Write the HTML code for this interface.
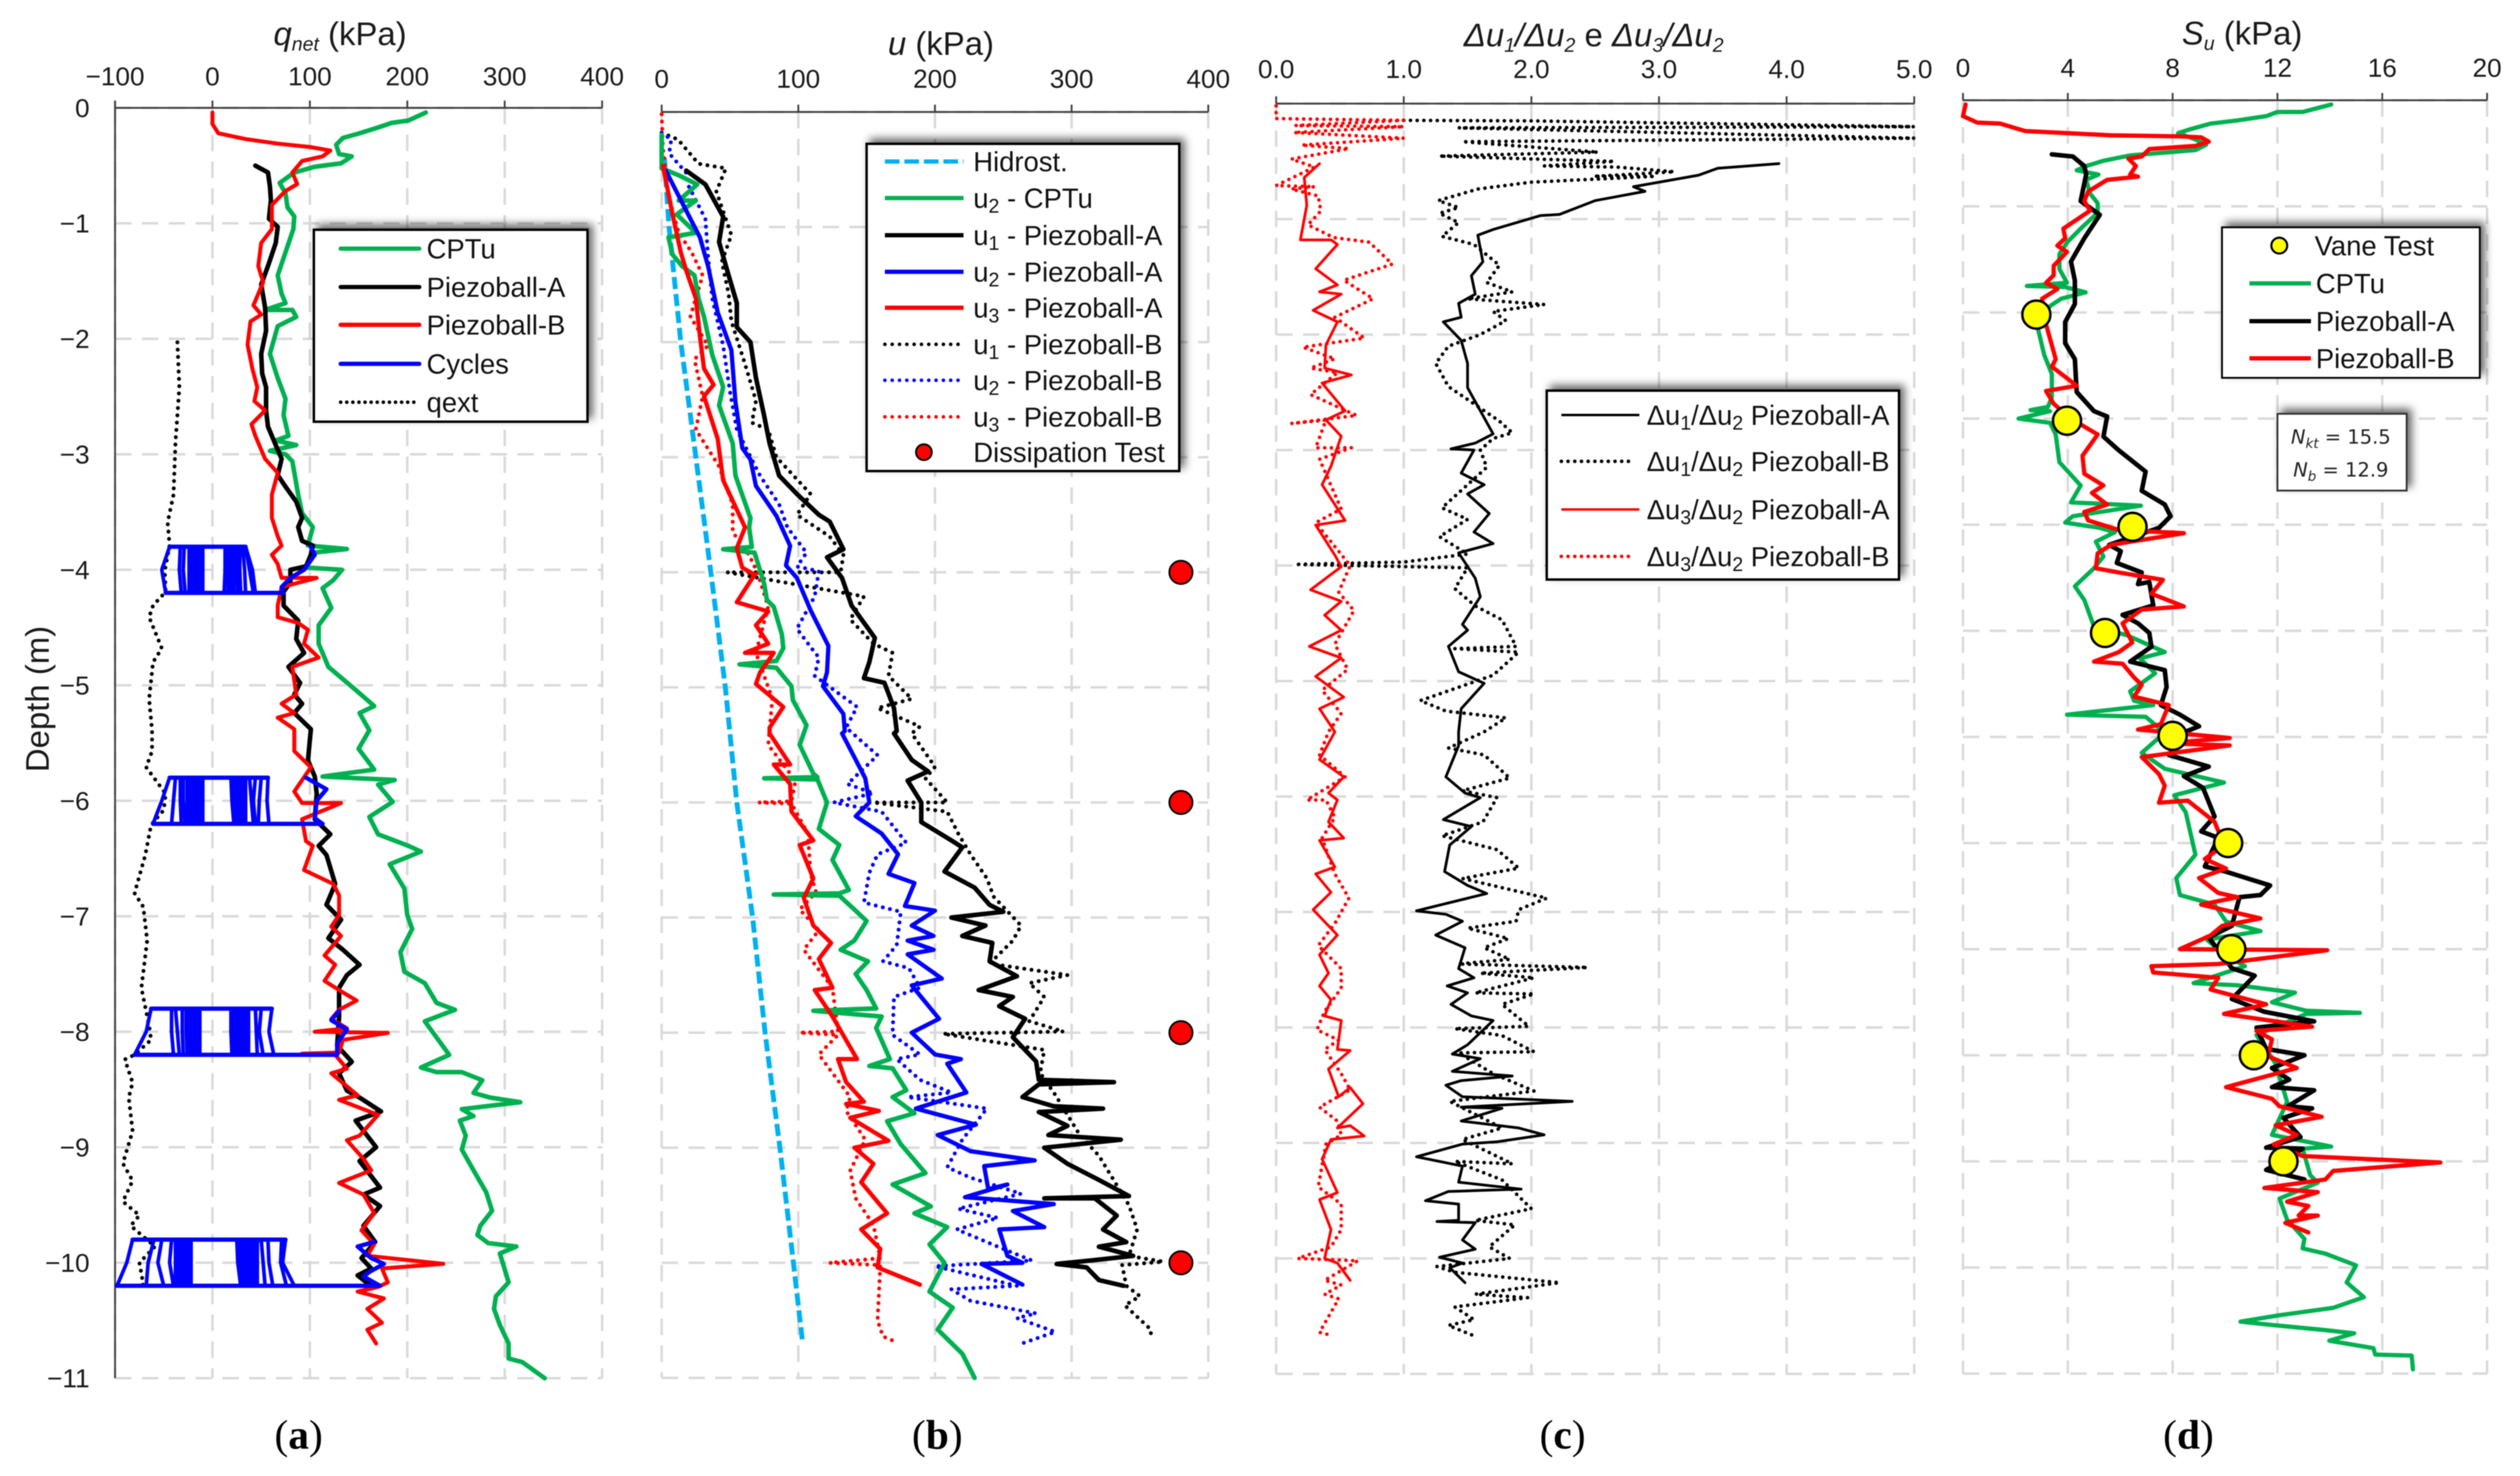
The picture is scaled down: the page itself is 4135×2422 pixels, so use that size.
<!DOCTYPE html>
<html lang="en">
<head>
<meta charset="utf-8">
<title>Piezoball and CPTu profiles</title>
<style>
html,body{margin:0;padding:0;background:#fff;}
svg{display:block;font-family:"Liberation Sans",sans-serif;fill:#1a1a1a;filter:blur(0.9px);}
.lg{font-size:45px;fill:#111;}
.sub{font-size:32px;}
.box{fill:#fff;stroke:#000;stroke-width:4;filter:drop-shadow(7px -7px 7px rgba(0,0,0,.6));}
.cap{font-family:"Liberation Serif",serif;font-size:68px;fill:#000;text-anchor:middle;}
.ttl{font-size:54px;text-anchor:middle;}
.note{font-family:"DejaVu Sans",sans-serif;font-size:32px;text-anchor:middle;fill:#222;}
</style>
</head>
<body>
<svg id="figure" xmlns="http://www.w3.org/2000/svg" width="4135" height="2422" viewBox="0 0 4135 2422">
<rect width="4135" height="2422" fill="#fff"/>
<g id="plots"></g>

<text class="ttl" x="558" y="74"><tspan font-style="italic">q</tspan><tspan class="sub" dy="9" font-style="italic">net</tspan><tspan dy="-9"> (kPa)</tspan></text>
<text class="ttl" x="1544" y="90"><tspan font-style="italic">u</tspan> (kPa)</text>
<text class="ttl" x="2615" y="76"><tspan font-style="italic">Δu</tspan><tspan class="sub" dy="9" font-style="italic">1</tspan><tspan dy="-9" font-style="italic">/Δu</tspan><tspan class="sub" dy="9" font-style="italic">2</tspan><tspan dy="-9"> e </tspan><tspan font-style="italic">Δu</tspan><tspan class="sub" dy="9" font-style="italic">3</tspan><tspan dy="-9" font-style="italic">/Δu</tspan><tspan class="sub" dy="9" font-style="italic">2</tspan></text>
<text class="ttl" x="3679" y="73"><tspan font-style="italic">S</tspan><tspan class="sub" dy="9" font-style="italic">u</tspan><tspan dy="-9"> (kPa)</tspan></text>
<text class="ttl" transform="translate(64 1147) rotate(-90)" x="0" y="16">Depth (m)</text>

<text class="cap" x="490" y="2377">(<tspan font-weight="bold">a</tspan>)</text>
<text class="cap" x="1538" y="2377">(<tspan font-weight="bold">b</tspan>)</text>
<text class="cap" x="2564" y="2377">(<tspan font-weight="bold">c</tspan>)</text>
<text class="cap" x="3591" y="2377">(<tspan font-weight="bold">d</tspan>)</text>

<g>
<rect class="box" x="515" y="377" width="449" height="315"/>
<line x1="559" x2="688" y1="408" y2="408" stroke="#00b050" stroke-width="7" stroke-linecap="round"/>
<text class="lg" x="700" y="424">CPTu</text>
<line x1="559" x2="688" y1="471" y2="471" stroke="#000" stroke-width="7" stroke-linecap="round"/>
<text class="lg" x="700" y="487">Piezoball-A</text>
<line x1="559" x2="688" y1="533" y2="533" stroke="#f00" stroke-width="7" stroke-linecap="round"/>
<text class="lg" x="700" y="549">Piezoball-B</text>
<line x1="559" x2="688" y1="597" y2="597" stroke="#00f" stroke-width="7" stroke-linecap="round"/>
<text class="lg" x="700" y="613">Cycles</text>
<line x1="559" x2="680" y1="660" y2="660" stroke="#000" stroke-width="6" stroke-linecap="round" stroke-dasharray="0 10"/>
<text class="lg" x="700" y="676">qext</text>
</g>

<g>
<rect class="box" x="1422" y="236" width="513" height="537"/>
<line x1="1452" x2="1581" y1="265" y2="265" stroke="#00b0f0" stroke-width="7" stroke-dasharray="24 8"/>
<text class="lg" x="1597" y="281">Hidrost.</text>
<line x1="1452" x2="1581" y1="325" y2="325" stroke="#00b050" stroke-width="7"/>
<text class="lg" x="1597" y="341">u<tspan class="sub" dy="8">2</tspan><tspan dy="-8"> - CPTu</tspan></text>
<line x1="1452" x2="1581" y1="386" y2="386" stroke="#000" stroke-width="7"/>
<text class="lg" x="1597" y="402">u<tspan class="sub" dy="8">1</tspan><tspan dy="-8"> - Piezoball-A</tspan></text>
<line x1="1452" x2="1581" y1="446" y2="446" stroke="#00f" stroke-width="7"/>
<text class="lg" x="1597" y="462">u<tspan class="sub" dy="8">2</tspan><tspan dy="-8"> - Piezoball-A</tspan></text>
<line x1="1452" x2="1581" y1="505" y2="505" stroke="#f00" stroke-width="7"/>
<text class="lg" x="1597" y="521">u<tspan class="sub" dy="8">3</tspan><tspan dy="-8"> - Piezoball-A</tspan></text>
<line x1="1452" x2="1575" y1="565" y2="565" stroke="#000" stroke-width="6" stroke-linecap="round" stroke-dasharray="0 12"/>
<text class="lg" x="1597" y="581">u<tspan class="sub" dy="8">1</tspan><tspan dy="-8"> - Piezoball-B</tspan></text>
<line x1="1452" x2="1575" y1="624" y2="624" stroke="#00f" stroke-width="6" stroke-linecap="round" stroke-dasharray="0 12"/>
<text class="lg" x="1597" y="640">u<tspan class="sub" dy="8">2</tspan><tspan dy="-8"> - Piezoball-B</tspan></text>
<line x1="1452" x2="1575" y1="684" y2="684" stroke="#f00" stroke-width="6" stroke-linecap="round" stroke-dasharray="0 12"/>
<text class="lg" x="1597" y="700">u<tspan class="sub" dy="8">3</tspan><tspan dy="-8"> - Piezoball-B</tspan></text>
<circle cx="1516" cy="742" r="13" fill="#f00" stroke="#000" stroke-width="3"/>
<text class="lg" x="1597" y="758">Dissipation Test</text>
</g>

<g>
<rect class="box" x="2538" y="641" width="578" height="310"/>
<line x1="2562" x2="2690" y1="681" y2="681" stroke="#000" stroke-width="4"/>
<text class="lg" x="2702" y="697">Δu<tspan class="sub" dy="8">1</tspan><tspan dy="-8">/Δu</tspan><tspan class="sub" dy="8">2</tspan><tspan dy="-8"> Piezoball-A</tspan></text>
<line x1="2562" x2="2682" y1="757" y2="757" stroke="#000" stroke-width="6" stroke-linecap="round" stroke-dasharray="0 11"/>
<text class="lg" x="2702" y="773">Δu<tspan class="sub" dy="8">1</tspan><tspan dy="-8">/Δu</tspan><tspan class="sub" dy="8">2</tspan><tspan dy="-8"> Piezoball-B</tspan></text>
<line x1="2562" x2="2690" y1="836" y2="836" stroke="#f00" stroke-width="4"/>
<text class="lg" x="2702" y="852">Δu<tspan class="sub" dy="8">3</tspan><tspan dy="-8">/Δu</tspan><tspan class="sub" dy="8">2</tspan><tspan dy="-8"> Piezoball-A</tspan></text>
<line x1="2562" x2="2682" y1="913" y2="913" stroke="#f00" stroke-width="6" stroke-linecap="round" stroke-dasharray="0 11"/>
<text class="lg" x="2702" y="929">Δu<tspan class="sub" dy="8">3</tspan><tspan dy="-8">/Δu</tspan><tspan class="sub" dy="8">2</tspan><tspan dy="-8"> Piezoball-B</tspan></text>
</g>

<g>
<rect class="box" style="stroke-width:3" x="3646" y="373" width="423" height="247"/>
<circle cx="3740" cy="403" r="13" fill="#ff0" stroke="#000" stroke-width="3.5"/>
<text class="lg" x="3798" y="419">Vane Test</text>
<line x1="3691" x2="3792" y1="465" y2="465" stroke="#00b050" stroke-width="7"/>
<text class="lg" x="3800" y="481">CPTu</text>
<line x1="3691" x2="3792" y1="527" y2="527" stroke="#000" stroke-width="7"/>
<text class="lg" x="3800" y="543">Piezoball-A</text>
<line x1="3691" x2="3792" y1="588" y2="588" stroke="#f00" stroke-width="7"/>
<text class="lg" x="3800" y="604">Piezoball-B</text>
</g>

<g>
<rect class="box" style="stroke-width:3;stroke:#333" x="3737" y="679" width="212" height="126"/>
<text class="note" x="3841" y="728"><tspan font-style="italic">N</tspan><tspan font-size="22" dy="7" font-style="italic">kt</tspan><tspan dy="-7"> = 15.5</tspan></text>
<text class="note" x="3841" y="782"><tspan font-style="italic">N</tspan><tspan font-size="22" dy="7" font-style="italic">b</tspan><tspan dy="-7"> = 12.9</tspan></text>
</g>
</svg>

<script>
/* ---------- axis tick values ---------- */
const depthTicks=[0,1,2,3,4,5,6,7,8,9,10,11];
const suDepthGrid=[0,1,2,3,4,5,6,7,8,9,10,11,12];
const qnetTicks=[-100,0,100,200,300,400];
const uTicks=[0,100,200,300,400];
const ratioTicks=[0,1,2,3,4,5];
const suTicks=[0,4,8,12,16,20];

/* ---------- panel (a) qnet, kPa vs depth, m: [value, depth] ---------- */
const qnetCptu=[[219,.04],[201,.11],[184,.13],[170,.17],[151,.22],[134,.26],[127,.32],[130,.4],[143,.42],[132,.48],[105,.51],[84,.56],[69,.65],[75,.74],[77,.86],[84,.94],[83,1.05],[75,1.25],[67,1.45],[71,1.61],[75,1.69],[54,1.75],[82,1.75],[86,1.81],[67,1.89],[59,2.13],[67,2.34],[75,2.52],[73,2.66],[78,2.84],[65,2.88],[86,2.92],[59,2.97],[75,3],[82,3.06],[88,3.35],[92,3.51],[103,3.63],[98,3.79],[138,3.82],[105,3.85],[101,3.87],[96,3.98],[133,4],[124,4.09],[113,4.16],[122,4.33],[109,4.48],[109,4.64],[119,4.84],[147,5.04],[166,5.18],[151,5.24],[161,5.39],[150,5.55],[166,5.73],[113,5.79],[187,5.82],[170,5.86],[185,6.01],[161,6.14],[170,6.29],[201,6.39],[214,6.44],[182,6.55],[197,6.76],[200,6.99],[205,7.11],[193,7.31],[197,7.48],[218,7.58],[230,7.75],[249,7.81],[218,7.91],[243,8.2],[214,8.31],[230,8.35],[256,8.35],[277,8.42],[268,8.53],[285,8.57],[316,8.61],[256,8.67],[268,8.73],[254,8.77],[260,8.9],[256,9.02],[268,9.2],[281,9.39],[287,9.55],[275,9.68],[272,9.76],[283,9.83],[312,9.86],[295,9.92],[304,10.17],[291,10.29],[289,10.4],[295,10.54],[304,10.7],[304,10.83],[318,10.86],[341,11]];
const qnetPiezoA=[[44,.5],[57,.56],[59,.68],[60,.8],[58,.96],[67,1.03],[65,1.17],[57,1.37],[50,1.53],[54,1.73],[55,1.93],[50,2.13],[51,2.3],[55,2.42],[55,2.62],[57,2.76],[63,2.88],[71,3.04],[67,3.18],[75,3.28],[86,3.41],[92,3.55],[88,3.63],[92,3.75],[103,3.79],[101,3.87],[96,3.97],[80,4],[80,4.11],[73,4.19],[73,4.31],[88,4.44],[86,4.6],[94,4.72],[78,4.84],[90,4.98],[84,5.08],[92,5.16],[84,5.24],[101,5.38],[98,5.65],[105,5.79],[107,5.94],[105,6.16],[121,6.29],[109,6.39],[117,6.47],[126,6.72],[117,6.9],[132,7.03],[119,7.19],[134,7.29],[151,7.42],[138,7.51],[130,7.62],[130,7.87],[128,8.12],[143,8.26],[130,8.36],[138,8.51],[151,8.57],[173,8.69],[147,8.77],[168,9],[151,9.12],[172,9.35],[155,9.41],[172,9.51],[155,9.68],[167,9.82],[153,9.96],[163,10.05],[149,10.11],[161,10.19]];
const qnetPiezoB=[[0,.04],[0,.14],[6,.22],[34,.27],[67,.31],[101,.34],[121,.37],[113,.42],[92,.46],[82,.56],[87,.66],[75,.72],[61,.84],[61,1.05],[50,1.17],[47,1.37],[52,1.51],[42,1.71],[50,1.79],[39,1.85],[36,2.05],[41,2.26],[46,2.42],[43,2.54],[54,2.62],[40,2.74],[44,2.84],[54,3.04],[67,3.16],[61,3.35],[61,3.55],[67,3.71],[71,3.79],[61,3.87],[67,3.95],[71,4.07],[107,4.07],[71,4.15],[67,4.31],[67,4.41],[88,4.46],[98,4.52],[94,4.64],[109,4.76],[82,4.84],[86,5.08],[71,5.16],[84,5.24],[67,5.28],[84,5.38],[84,5.57],[101,5.71],[84,5.92],[92,6.02],[132,6.02],[92,6.16],[96,6.35],[103,6.39],[94,6.6],[124,6.72],[130,6.82],[130,6.99],[122,7.09],[132,7.17],[115,7.34],[126,7.42],[115,7.56],[134,7.66],[148,7.73],[130,7.81],[122,7.89],[138,7.97],[105,8],[180,8.01],[134,8.07],[130,8.18],[92,8.19],[126,8.2],[138,8.32],[122,8.36],[149,8.55],[130,8.59],[170,8.72],[151,8.9],[138,8.94],[155,9.1],[163,9.2],[130,9.31],[155,9.41],[166,9.57],[153,9.72],[166,9.84],[159,9.94],[237,10.01],[174,10.05],[180,10.17],[170,10.21],[149,10.25],[176,10.31],[159,10.4],[174,10.52],[159,10.58],[168,10.7]];
const qnetExt=[[-36,2.03],[-34,2.42],[-38,2.9],[-40,3.35],[-46,3.59],[-44,3.79],[-49,4.01],[-48,4.19],[-61,4.31],[-65,4.41],[-52,4.68],[-61,4.8],[-65,5.12],[-62,5.39],[-62,5.57],[-68,5.71],[-48,5.94],[-50,6.08],[-63,6.21],[-69,6.47],[-80,6.8],[-71,6.92],[-67,7.21],[-73,7.62],[-65,7.95],[-63,8.07],[-80,8.2],[-90,8.24],[-82,8.44],[-86,8.57],[-82,8.86],[-92,9.14],[-82,9.29],[-92,9.47],[-75,9.59],[-84,9.68],[-59,9.86],[-75,10],[-71,10.19],[-80,10.2]];

/* cycles: depths of top, middle, bottom; strands of q at those depths */
const cycleDepths1=[3.8,4.0,4.2];
const cycleStrands1=[[-44,-52,-48],[-33,-34,-32],[-29,-30,-28],[-24,-24,-24],[-22,-22,-22],[-20,-20,-20],[-18,-18,-18],[-16,-16,-16],[-14,-14,-14],[-12,-12,-12],[-10,-10,-10],[13,13,12],[16,16,16],[19,19,19],[22,22,22],[25,25,26],[28,28,29],[31,33,34],[34,38,42],[34,41,44]];
const cycleTail1=[[101,3.8],[105,3.87],[94,4],[80,4.07],[71,4.15],[73,4.2]];
const cycleDepths2=[5.8,6.0,6.2];
const cycleStrands2=[[-44,-52,-61],[-38,-40,-42],[-33,-33,-32],[-30,-30,-28],[-26,-26,-26],[-24,-24,-24],[-22,-22,-22],[-20,-20,-20],[-18,-18,-18],[-16,-16,-16],[-14,-14,-14],[-12,-12,-12],[-10,-10,-10],[19,20,22],[22,22,24],[25,25,26],[28,28,28],[31,31,31],[34,34,34],[38,40,42],[44,42,44],[50,48,47],[57,56,58]];
const cycleTail2=[[96,5.8],[117,5.9],[107,6],[105,6.15],[113,6.2]];
const cycleDepths3=[7.8,8.0,8.2];
const cycleStrands3=[[-63,-68,-80],[-42,-42,-40],[-38,-36,-34],[-31,-31,-30],[-27,-27,-26],[-25,-25,-25],[-23,-23,-23],[-21,-21,-21],[-19,-19,-19],[-17,-17,-17],[-15,-15,-15],[-13,-13,-13],[19,19,20],[22,22,23],[25,25,26],[28,28,28],[31,31,31],[34,34,34],[37,37,37],[44,45,46],[50,48,52],[61,58,63]];
const cycleTail3=[[130,7.82],[122,7.9],[138,7.98],[128,8.1],[128,8.2]];
const cycleDepths4=[9.8,10.0,10.2];
const cycleStrands4=[[-82,-88,-98],[-60,-66,-68],[-52,-56,-50],[-42,-44,-40],[-38,-38,-38],[-36,-36,-36],[-34,-34,-34],[-32,-32,-32],[-30,-30,-30],[-28,-28,-28],[-26,-26,-26],[-24,-24,-24],[-22,-22,-22],[25,26,29],[28,29,31],[31,32,34],[34,34,36],[37,37,38],[40,40,41],[43,43,44],[46,46,46],[50,52,54],[57,58,62],[71,70,76],[75,72,84]];
const cycleTail4=[[166,9.82],[149,9.86],[163,9.96],[176,10.01],[161,10.08],[155,10.12],[172,10.2]];

/* ---------- panel (b) pore pressure, kPa vs depth, m ---------- */
const uHydrostatic=[[2,.4],[5.4,1],[14,2],[25,3],[36,4],[46.6,5],[55,6],[66.6,7],[75.7,8],[86.5,9],[96.4,10],[103,10.68]];
const u2Cptu=[[0,.2],[0,.49],[12.5,.55],[26,.63],[12.5,.77],[25,.77],[11,.89],[25,1.05],[5,1.09],[8,1.24],[15,1.34],[24,1.42],[27,1.62],[31,1.78],[37,2.11],[45,2.39],[42,2.55],[52,2.88],[54,3.16],[65,3.53],[64,3.61],[66,3.78],[45,3.8],[68,3.83],[75,4.1],[77,4.24],[82,4.3],[88,4.54],[89,4.66],[84,4.77],[57,4.8],[84,4.83],[95,4.99],[96,5.11],[106,5.33],[101,5.5],[111,5.75],[114,5.78],[75,5.79],[114,5.8],[121,6],[115,6.23],[130,6.37],[125,6.5],[137,6.76],[130,6.79],[82,6.8],[130,6.81],[141,6.93],[150,7.03],[141,7.2],[131,7.28],[151,7.38],[142,7.49],[150,7.63],[157,7.79],[111,7.81],[161,7.86],[157,7.96],[167,8.23],[152,8.29],[169,8.31],[179,8.5],[169,8.56],[185,8.7],[165,8.77],[175,8.97],[193,9.22],[169,9.32],[197,9.51],[185,9.57],[209,9.69],[196,9.84],[207,10],[196,10.25],[213,10.39],[202,10.58],[220,10.79],[229,11]];
const u1PiezoA=[[18,.51],[32,.63],[45,.91],[42,1.13],[49,1.42],[55,1.66],[55,1.87],[65,2],[69,2.31],[75,2.64],[79,2.88],[86,3.16],[99,3.32],[115,3.5],[123,3.56],[133,3.8],[121,3.87],[132,4.05],[139,4.29],[156,4.57],[152,4.78],[148,4.92],[163,4.96],[170,5.18],[172,5.38],[170,5.4],[183,5.63],[195,5.73],[180,5.81],[190,6],[190,6.17],[212,6.33],[220,6.39],[207,6.6],[229,6.74],[240,6.89],[250,6.95],[212,7],[237,7.07],[220,7.16],[242,7.22],[240,7.38],[260,7.51],[232,7.63],[257,7.69],[247,7.77],[266,7.88],[257,8.04],[274,8.25],[276,8.41],[331,8.43],[276,8.45],[264,8.56],[287,8.64],[323,8.66],[276,8.69],[297,8.81],[283,8.89],[336,8.93],[280,9],[297,9.14],[320,9.28],[342,9.42],[280,9.44],[317,9.44],[333,9.59],[323,9.71],[340,9.82],[320,9.86],[345,9.94],[314,9.98],[289,10.01],[311,10.04],[320,10.15],[338,10.2]];
const u2PiezoA=[[3,.51],[12.5,.73],[28,1.09],[34,1.34],[41,1.74],[51,2.07],[54,2.52],[59,2.92],[65,3.02],[69,3.25],[84,3.51],[94,3.77],[91,3.94],[99,4.05],[109,4.33],[122,4.64],[121,4.87],[118,4.99],[133,5.23],[134,5.38],[132,5.4],[149,5.79],[152,6],[142,6.12],[161,6.27],[173,6.45],[166,6.62],[185,6.7],[178,6.9],[200,6.94],[183,7.07],[199,7.16],[180,7.2],[199,7.28],[180,7.32],[205,7.53],[183,7.59],[203,7.88],[183,8],[200,8.19],[219,8.23],[209,8.27],[223,8.52],[186,8.66],[230,8.8],[202,8.89],[226,9.03],[273,9.11],[236,9.16],[239,9.36],[253,9.32],[222,9.43],[287,9.49],[257,9.55],[280,9.69],[247,9.71],[253,9.94],[264,10],[234,10.01],[264,10.19]];
const u3PiezoA=[[1,.47],[8,.89],[14,1.22],[18,1.38],[25,1.62],[28,1.95],[31,2.23],[38,2.37],[31,2.47],[41,2.84],[45,3.2],[61,3.61],[55,3.79],[59,3.96],[68,4.02],[55,4.26],[78,4.34],[69,4.46],[78,4.62],[61,4.7],[82,4.7],[72,4.87],[69,4.97],[89,5.17],[79,5.35],[79,5.4],[94,5.67],[82,5.67],[94,5.84],[95,6.08],[111,6.33],[101,6.37],[111,6.66],[104,6.83],[111,7.07],[124,7.22],[115,7.36],[125,7.61],[112,7.63],[125,7.86],[143,8.23],[129,8.23],[135,8.43],[148,8.6],[135,8.62],[159,8.68],[138,8.74],[166,8.94],[141,9],[155,9.14],[146,9.3],[165,9.57],[146,9.71],[160,9.88],[158,10.04],[189,10.19]];
const u1PiezoB=[[0,.18],[12,.24],[27,.45],[47,.49],[40,.69],[51,1.07],[44,1.3],[49,1.58],[51,1.82],[61,2.19],[69,2.51],[66,2.7],[78,2.76],[84,3],[109,3.32],[99,3.5],[123,3.69],[133,3.85],[131,4],[48,4],[148,4.21],[138,4.41],[155,4.62],[169,4.7],[166,4.9],[183,5.1],[158,5.18],[189,5.34],[183,5.4],[200,5.69],[193,5.79],[209,6],[155,6],[209,6.08],[217,6.27],[226,6.45],[238,6.66],[243,6.82],[263,7.07],[257,7.2],[240,7.4],[297,7.5],[269,7.57],[280,7.69],[269,7.9],[294,7.99],[206,8.01],[280,8.15],[277,8.35],[288,8.54],[306,8.89],[320,9.07],[342,9.5],[348,9.71],[342,9.94],[367,9.99],[337,10.02],[340,10.2],[350,10.29],[339,10.37],[358,10.58],[358,10.67]];
const u2PiezoB=[[0,.18],[7,.24],[5.5,.36],[18,.53],[20,.65],[32,.93],[34,1.26],[37,1.62],[45,2.03],[50,2.43],[55,2.76],[72,3.16],[86,3.41],[92,3.61],[106,3.83],[99,3.95],[115,3.99],[112,4.21],[99,4.49],[109,4.65],[115,4.74],[112,4.9],[143,5.17],[135,5.35],[158,5.59],[136,5.84],[155,5.92],[126,6],[161,6.08],[179,6.35],[158,6.45],[152,6.61],[148,6.87],[175,6.95],[172,7.24],[162,7.38],[181,7.44],[189,7.61],[170,7.69],[169,8.02],[189,8.19],[172,8.23],[189,8.41],[212,8.52],[180,8.56],[238,8.66],[220,8.93],[209,9.17],[226,9.26],[263,9.4],[217,9.53],[246,9.61],[216,9.71],[246,9.86],[271,9.98],[200,10.03],[260,10.2],[212,10.23],[226,10.33],[274,10.44],[260,10.48],[288,10.6],[264,10.7]];
const u3PiezoB=[[0,.02],[1,.32],[5,.73],[12.5,1.05],[22,1.22],[30,1.42],[21,1.78],[34,2.03],[24,2.15],[30,2.47],[25,2.76],[42,3.08],[52,3.41],[52,3.65],[64,3.85],[70,4],[78,4.3],[69,4.7],[81,5.1],[78,5.5],[98,5.81],[95,5.99],[71,6],[95,6.01],[107,6.27],[109,6.62],[113,6.78],[101,6.93],[115,7.11],[104,7.28],[125,7.61],[129,7.99],[101,8],[129,8.02],[115,8.19],[138,8.56],[135,8.68],[149,8.93],[138,9.2],[142,9.44],[155,9.67],[160,9.96],[123,10],[160,10.02],[158,10.5],[162,10.64],[172,10.69]];
const dissipationU=[380,380,380,380];
const dissipationDepth=[4,6,8,10];

/* ---------- panel (c) pore pressure ratios vs depth, m ---------- */
const ratio1A=[[3.94,.52],[3.46,.56],[3.31,.62],[2.8,.72],[2.89,.76],[2.5,.84],[2.22,.96],[2.07,.97],[1.7,1.09],[1.58,1.14],[1.62,1.37],[1.53,1.49],[1.56,1.65],[1.43,1.73],[1.45,1.85],[1.31,1.89],[1.45,2.05],[1.5,2.25],[1.5,2.46],[1.6,2.66],[1.7,2.86],[1.56,2.94],[1.37,2.99],[1.55,3],[1.45,3.2],[1.63,3.3],[1.5,3.38],[1.67,3.55],[1.55,3.71],[1.7,3.81],[1.43,3.89],[1.56,4.11],[1.6,4.27],[1.46,4.51],[1.5,4.56],[1.35,4.7],[1.43,4.92],[1.63,5.02],[1.45,5.24],[1.43,5.44],[1.43,5.56],[1.33,5.83],[1.48,5.97],[1.6,6.01],[1.31,6.2],[1.53,6.26],[1.36,6.42],[1.32,6.65],[1.5,6.77],[1.65,6.84],[1.1,6.99],[1.33,7.02],[1.46,7.08],[1.25,7.2],[1.48,7.31],[1.43,7.49],[1.55,7.57],[1.34,7.64],[1.5,7.7],[1.37,7.8],[1.53,7.9],[1.7,7.94],[1.5,8.15],[1.38,8.23],[1.6,8.27],[1.38,8.38],[1.85,8.42],[1.45,8.46],[1.33,8.5],[1.46,8.6],[2.32,8.64],[1.45,8.69],[1.77,8.7],[1.45,8.81],[1.9,8.87],[2.1,8.93],[1.73,8.99],[1.46,9.01],[1.1,9.12],[1.46,9.2],[1.43,9.34],[1.92,9.4],[1.35,9.42],[1.17,9.5],[1.43,9.53],[1.43,9.67],[1.26,9.68],[1.56,9.69],[1.46,9.84],[1.56,9.92],[1.28,9.99],[1.46,10.04],[1.36,10.08],[1.48,10.21]];
const ratio1B=[[1,.145],[2,.15],[5,.2],[1.43,.21],[5,.3],[1.46,.33],[2.52,.42],[1.28,.455],[2.65,.5],[2.1,.54],[2.67,.55],[3.12,.59],[2.49,.63],[2.97,.63],[2,.68],[1.58,.74],[1.27,.84],[1.43,.9],[1.28,.95],[1.43,1.03],[1.3,1.15],[1.55,1.22],[1.75,1.4],[1.65,1.55],[1.85,1.63],[1.5,1.69],[2.1,1.74],[1.7,1.8],[1.8,1.88],[1.6,2],[1.35,2.1],[1.25,2.25],[1.35,2.45],[1.55,2.6],[1.75,2.75],[1.85,2.85],[1.7,2.9],[1.6,3],[1.65,3.15],[1.3,3.5],[1.5,3.6],[1.28,3.75],[1.5,3.9],[1,3.97],[.15,3.99],[1.5,4.02],[1.4,4.2],[1.56,4.35],[1.77,4.47],[1.88,4.7],[1.4,4.72],[1.9,4.75],[1.7,4.95],[1.13,5.17],[1.33,5.26],[1.8,5.32],[1.63,5.44],[1.35,5.58],[1.63,5.64],[1.83,5.84],[1.46,5.95],[1.73,6.01],[1.62,6.22],[1.3,6.34],[1.73,6.46],[1.9,6.62],[1.46,6.71],[2.12,6.88],[1.9,6.98],[1.88,7.08],[1.5,7.14],[1.82,7.23],[1.63,7.31],[1.83,7.41],[1.43,7.45],[2.44,7.48],[1.6,7.53],[2.02,7.57],[1.56,7.7],[2.02,7.71],[1.77,7.8],[1.98,7.99],[1.4,8.01],[1.77,8.07],[2.02,8.21],[1.43,8.22],[1.7,8.4],[2.02,8.55],[1.36,8.64],[1.77,8.87],[1.46,8.97],[1.85,9.18],[1.4,9.16],[1.77,9.32],[2,9.57],[1.56,9.67],[1.87,9.71],[1.67,9.9],[1.83,10],[1.26,10.07],[1.4,10.12],[2.22,10.21],[1.56,10.31],[1.97,10.34],[1.4,10.42],[1.55,10.53],[1.35,10.58],[1.55,10.67]];
const ratio3A=[[.34,.52],[.22,.64],[.24,.88],[.19,1.18],[.43,1.18],[.48,1.22],[.31,1.43],[.48,1.57],[.34,1.63],[.51,1.65],[.29,1.79],[.48,1.89],[.39,2.09],[.38,2.29],[.59,2.35],[.36,2.42],[.54,2.66],[.39,2.74],[.51,2.88],[.43,3.14],[.36,3.3],[.54,3.61],[.31,3.65],[.46,3.91],[.51,4.01],[.27,4.21],[.51,4.31],[.38,4.43],[.51,4.56],[.26,4.7],[.51,4.8],[.31,4.96],[.53,5.14],[.34,5.24],[.46,5.44],[.34,5.68],[.53,5.83],[.41,5.97],[.48,6.03],[.41,6.22],[.53,6.36],[.34,6.38],[.46,6.61],[.31,6.67],[.43,6.83],[.29,6.98],[.48,7.2],[.34,7.37],[.41,7.53],[.34,7.64],[.43,7.76],[.38,7.9],[.51,7.94],[.48,8.19],[.58,8.2],[.41,8.36],[.49,8.6],[.58,8.52],[.68,8.66],[.48,8.87],[.58,8.85],[.69,8.94],[.43,8.97],[.36,9.14],[.48,9.43],[.34,9.49],[.43,9.75],[.38,10],[.48,10.04],[.58,10.19]];
const ratio3B=[[0,.02],[0,.13],[1,.145],[.15,.19],[1,.2],[.14,.25],[1,.3],[.2,.36],[.57,.39],[.12,.48],[.3,.55],[0,.71],[.3,.72],[.12,.74],[.33,.8],[.35,.93],[.25,1.05],[.45,1.16],[.73,1.2],[.91,1.39],[.53,1.53],[.76,1.69],[.46,1.85],[.69,2.03],[.21,2.11],[.46,2.21],[.27,2.29],[.48,2.33],[.27,2.52],[.63,2.7],[.12,2.77],[.39,2.74],[.31,2.98],[.59,2.98],[.34,3.08],[.51,3.51],[.31,3.63],[.58,4],[.49,4.23],[.61,4.39],[.46,4.68],[.56,4.9],[.36,5.08],[.51,5.28],[.41,5.44],[.34,5.64],[.54,5.83],[.24,6.03],[.39,6.03],[.46,6.18],[.36,6.36],[.46,6.67],[.57,6.88],[.46,7.1],[.33,7.29],[.51,7.49],[.51,7.66],[.38,7.86],[.32,8.02],[.49,8.11],[.38,8.19],[.51,8.4],[.58,8.54],[.34,8.69],[.48,8.81],[.51,8.93],[.39,9.01],[.33,9.38],[.51,9.53],[.51,9.75],[.43,9.9],[.17,10],[.64,10.02],[.38,10.19],[.51,10.23],[.38,10.31],[.49,10.35],[.34,10.64],[.41,10.66]];

/* ---------- panel (d) undrained strength, kPa vs axis position ---------- */
const suCptu=[[14.05,.04],[12.96,.11],[12,.11],[11.57,.15],[10.47,.19],[9.45,.22],[8.58,.28],[8.21,.31],[8.87,.37],[9.28,.42],[8.87,.47],[6.38,.52],[5.36,.57],[4.7,.62],[4.34,.66],[5.17,.7],[4.7,.75],[4.85,.88],[5.14,.97],[5.14,1.06],[4.49,1.21],[3.97,1.34],[3.68,1.45],[3.68,1.59],[3.97,1.72],[2.44,1.75],[3.9,1.76],[4.68,1.81],[3.75,1.87],[3.32,1.94],[2.8,2.09],[3.1,2.4],[3.39,2.58],[3.39,2.8],[3.24,2.89],[2.58,2.92],[3.32,2.93],[2.12,3],[3.32,3.04],[3.54,3.15],[3.68,3.41],[4.49,3.63],[4.12,3.79],[6.79,3.82],[4.19,3.92],[3.9,3.98],[5.22,4.03],[5.8,4.07],[5.07,4.16],[5.36,4.3],[5,4.41],[4.27,4.58],[4.63,4.71],[5,4.96],[6.24,5.04],[7.7,5.2],[6.75,5.26],[7.33,5.4],[6.38,5.57],[6.53,5.66],[7.26,5.7],[3.97,5.79],[6.97,5.81],[7.7,5.96],[6.82,6.15],[7.7,6.3],[9.96,6.43],[8.06,6.55],[8.5,6.71],[8.87,7.11],[8.14,7.33],[8.28,7.49],[9.6,7.58],[10.04,7.74],[11.35,7.83],[9.3,7.91],[10,8.05],[10.76,8.16],[8.8,8.32],[10.47,8.34],[12.67,8.41],[11.79,8.5],[13.1,8.58],[15.15,8.6],[13.1,8.61],[11.2,8.81],[11.93,9.08],[12.37,9.44],[11.79,9.75],[14.05,9.86],[12.96,9.88],[13.25,10.13],[13.54,10.2],[12.08,10.35],[12.37,10.55],[13.03,10.73],[12.96,10.82],[13.83,10.87],[15,10.98],[14.64,11.14],[15.3,11.28],[14.13,11.38],[12.08,11.45],[10.59,11.51],[11.72,11.54],[13.83,11.59],[14.93,11.62],[13.98,11.69],[15.66,11.76],[15.73,11.82],[17.12,11.83],[17.17,11.96]];
const suPiezoA=[[3.39,.51],[4.19,.53],[4.63,.62],[4.7,.7],[4.49,.95],[5.22,1.08],[4.63,1.3],[4.12,1.52],[4.27,1.7],[4.27,1.92],[3.9,2.09],[3.9,2.29],[4.27,2.44],[4.34,2.75],[5,2.93],[5.5,2.98],[5.36,3.17],[5.95,3.3],[6.97,3.5],[6.82,3.68],[7.7,3.81],[7.92,3.92],[7.48,4.03],[5.58,4.19],[6.02,4.25],[5.87,4.36],[6.82,4.45],[6.68,4.56],[7.11,4.54],[7.26,4.76],[6.09,4.85],[6.68,4.93],[7.11,5.02],[7.19,5.15],[6.38,5.29],[7.7,5.37],[7.77,5.53],[7.55,5.7],[8.28,5.79],[9.01,5.9],[8.5,5.95],[7.85,6.17],[9.38,6.28],[8.43,6.37],[9.16,6.48],[9.6,6.75],[9.09,6.89],[9.74,6.95],[9.23,7.22],[10.04,7.27],[11.72,7.4],[11.35,7.49],[10.55,7.51],[10.26,7.78],[9.38,7.89],[10.26,8.18],[11.13,8.25],[10.26,8.47],[11.5,8.59],[13.4,8.68],[11.2,8.74],[11.57,8.94],[13.03,9],[11.79,9.12],[12.45,9.23],[11.79,9.3],[13.4,9.33],[12.4,9.48],[13.32,9.5],[12.23,9.59],[12.88,9.77],[11.57,9.87],[12.96,9.88],[11.57,10.08],[13.03,10.17]];
const suPiezoB=[[.1,.04],[0,.15],[.54,.21],[1.42,.22],[2.37,.29],[5.65,.33],[8.28,.34],[9.09,.35],[9.38,.39],[8.87,.43],[7.11,.46],[6.82,.53],[6.31,.55],[6.6,.62],[6.38,.7],[6.68,.72],[5.5,.75],[4.78,.86],[4.63,.95],[4.85,1.04],[3.83,1.21],[3.9,1.3],[3.6,1.37],[3.97,1.43],[3.46,1.56],[3.46,1.65],[3.17,1.72],[3.6,1.78],[3.02,1.87],[3.1,2.05],[3.54,2.44],[3.39,2.51],[4.34,2.69],[3.17,2.74],[3.46,2.86],[4.12,3],[5.14,3.15],[4.56,3.35],[4.63,3.52],[5.36,3.63],[4.92,3.7],[5.5,3.81],[4.63,3.88],[4.78,3.96],[5.95,4.05],[8.43,4.08],[5.65,4.19],[5.14,4.27],[5.07,4.41],[5.95,4.45],[7.63,4.52],[7.19,4.65],[8.43,4.77],[6.82,4.8],[6.09,4.93],[6.46,5.11],[5.95,5.2],[5,5.29],[6.09,5.31],[6.53,5.44],[6.82,5.51],[6.53,5.62],[7.85,5.7],[7.55,5.88],[6.68,5.93],[10.18,6.01],[7.7,6.06],[10.18,6.08],[6.82,6.19],[7.48,6.35],[7.7,6.46],[7.48,6.62],[8.58,6.6],[9.6,6.8],[9.96,7.02],[9.23,7.15],[10.04,7.24],[9.01,7.33],[9.74,7.47],[10.47,7.51],[9.09,7.58],[11.35,7.71],[9.89,7.78],[9.45,7.87],[8.28,8],[13.9,8.01],[9.74,8.14],[7.19,8.16],[7.26,8.22],[9.74,8.27],[9.45,8.38],[11.57,8.52],[9.96,8.61],[13.32,8.73],[11.2,8.77],[11.79,8.85],[11.64,9.01],[12.74,9.12],[10.04,9.3],[11.79,9.41],[12.08,9.48],[13.69,9.58],[11.93,9.66],[12.74,9.75],[11.86,9.84],[12.96,9.95],[18.22,10.01],[14.13,10.09],[13.83,10.17],[11.5,10.25],[13.54,10.29],[12.37,10.38],[13.18,10.42],[12.81,10.51],[13.54,10.51],[12.3,10.58],[13.18,10.67]];
const vaneSu=[2.8,3.97,6.47,5.42,8,10.12,10.24,11.1,12.23];
const vaneDepth=[2.02,3.02,4.02,5.02,5.99,7,8,9,10];

/* ---------- rendering ---------- */
const SVG_NS='http://www.w3.org/2000/svg';
const plots=document.getElementById('plots');
const GREEN='#00b050',BLUE='#0000ff',RED='#ff0000',BLACK='#000000',CYAN='#00b0f0';

function panel(name,vMin,vMax,left,right,top,bottom,depthMax){
  const g=document.createElementNS(SVG_NS,'g');
  
  
  plots.appendChild(g);
  return {g,
    x:v=>left+(v-vMin)/(vMax-vMin)*(right-left),
    y:d=>top+d/depthMax*(bottom-top),
    left,right,top,bottom};
}
function line(p,x1,y1,x2,y2,color,width,dash,name){
  const l=document.createElementNS(SVG_NS,'line');
  l.setAttribute('x1',x1);l.setAttribute('y1',y1);l.setAttribute('x2',x2);l.setAttribute('y2',y2);
  l.setAttribute('stroke',color);l.setAttribute('stroke-width',width);
  if(dash)l.setAttribute('stroke-dasharray',dash);
  
  
  p.g.appendChild(l);
}
function label(p,x,y,str,anchor,name,size){
  const t=document.createElementNS(SVG_NS,'text');
  t.setAttribute('x',x);t.setAttribute('y',y);
  t.setAttribute('text-anchor',anchor);
  t.setAttribute('font-size',size);
  t.textContent=str;
  
  
  p.g.appendChild(t);
}
function axes(p,ticks,fmt,grid,labelY,solidLeft){
  const DASH='27 17';
  grid.forEach(d=>{
    line(p,p.left,p.y(d),p.right,p.y(d),'#d9d9d9',4,DASH,'grid-depth-'+d);
  });
  ticks.forEach(v=>{
    line(p,p.x(v),p.top,p.x(v),p.bottom,'#d9d9d9',4,DASH,'grid-value-'+v);
  });
  if(solidLeft){
    line(p,p.left,p.top-12,p.left,p.bottom,'#404040',3,null,'y-axis-line');
  }
  line(p,p.left,p.top,p.right,p.top,'#404040',3,null,'x-axis-line');
  ticks.forEach(v=>{
    line(p,p.x(v),p.top-12,p.x(v),p.top,'#404040',3,null,'x-tick-mark-'+v);
    label(p,p.x(v),labelY,fmt(v),'middle','x-tick-label-'+v,43);
  });
}
function series(p,points,color,width,name,dash,cap){
  const path=document.createElementNS(SVG_NS,'path');
  path.setAttribute('d',points.map((q,i)=>(i?'L':'M')+p.x(q[0]).toFixed(1)+' '+p.y(q[1]).toFixed(1)).join(''));
  path.setAttribute('fill','none');
  path.setAttribute('stroke',color);
  path.setAttribute('stroke-width',width);
  path.setAttribute('stroke-linejoin','round');
  path.setAttribute('stroke-linecap',cap||'round');
  if(dash)path.setAttribute('stroke-dasharray',dash);
  
  
  p.g.appendChild(path);
}
function marker(p,v,d,r,fill,sw,name){
  const c=document.createElementNS(SVG_NS,'circle');
  c.setAttribute('cx',p.x(v));c.setAttribute('cy',p.y(d));c.setAttribute('r',r);
  c.setAttribute('fill',fill);c.setAttribute('stroke','#000');c.setAttribute('stroke-width',sw);
  
  
  p.g.appendChild(c);
}
function cycles(p,depths,strands,tail,name){
  const lefts=strands.map(s=>s[0]), leftsBottom=strands.map(s=>s[2]);
  const topMin=Math.min(...lefts), topMax=Math.max(...lefts);
  const botMin=Math.min(...leftsBottom), botEnd=tail[tail.length-1][0];
  series(p,[[topMin,depths[0]],[topMax,depths[0]]],BLUE,7,name+'-top');
  series(p,[[botMin,depths[2]],[botEnd,depths[2]]],BLUE,7,name+'-bottom');
  strands.forEach((s,i)=>{
    series(p,[[s[0],depths[0]],[s[1],depths[1]],[s[2],depths[2]]],BLUE,6,name+'-strand-'+i);
  });
  series(p,tail,BLUE,7,name+'-reconsolidation');
}

/* panel a */
const pa=panel('panel-a-qnet',-100,400,188.8,988,177,2261.5,11);
axes(pa,qnetTicks,v=>String(v).replace('-','\u2212'),depthTicks,140,true);
depthTicks.forEach(d=>{
  label(pa,147,pa.y(d)+15,d===0?'0':'\u2212'+d,'end','y-tick-label-'+d,43);
});
series(pa,qnetCptu,GREEN,7.5,'series-qnet-cptu');
series(pa,qnetPiezoA,BLACK,7.5,'series-qnet-piezoball-a');
series(pa,qnetPiezoB,RED,6.5,'series-qnet-piezoball-b');
series(pa,qnetExt,BLACK,6.5,'series-qext','0 12');
cycles(pa,cycleDepths1,cycleStrands1,cycleTail1,'cycles-1');
cycles(pa,cycleDepths2,cycleStrands2,cycleTail2,'cycles-2');
cycles(pa,cycleDepths3,cycleStrands3,cycleTail3,'cycles-3');
cycles(pa,cycleDepths4,cycleStrands4,cycleTail4,'cycles-4');

/* panel b */
const pb=panel('panel-b-pore-pressure',0,400,1085.7,1982.6,183.7,2261,11);
axes(pb,uTicks,v=>String(v),depthTicks,144,false);
series(pb,uHydrostatic,CYAN,8,'series-hidrost','20 8','butt');
series(pb,u1PiezoB,BLACK,6.5,'series-u1-piezoball-b','0 12');
series(pb,u2PiezoB,BLUE,6.5,'series-u2-piezoball-b','0 12');
series(pb,u3PiezoB,RED,6.5,'series-u3-piezoball-b','0 12');
series(pb,u2Cptu,GREEN,7.5,'series-u2-cptu');
series(pb,u1PiezoA,BLACK,7.5,'series-u1-piezoball-a');
series(pb,u2PiezoA,BLUE,7,'series-u2-piezoball-a');
series(pb,u3PiezoA,RED,7,'series-u3-piezoball-a');
dissipationU.forEach((u,i)=>{
  marker(pb,u,dissipationDepth[i],19,RED,3,'dissipation-test-'+i);
});

/* panel c */
const pc=panel('panel-c-ratios',0,5,2094,3141,170,2254.5,11);
axes(pc,ratioTicks,v=>v.toFixed(1),depthTicks,128,false);
series(pc,ratio1B,BLACK,6,'series-u1u2-piezoball-b','0 11');
series(pc,ratio3B,RED,6,'series-u3u2-piezoball-b','0 11');
series(pc,ratio1A,BLACK,4.5,'series-u1u2-piezoball-a');
series(pc,ratio3A,RED,4.5,'series-u3u2-piezoball-a');

/* panel d */
const pd=panel('panel-d-su',0,20,3221,4081,164.5,2254,12);
axes(pd,suTicks,v=>String(v),suDepthGrid,126,false);
series(pd,suCptu,GREEN,7,'series-su-cptu');
series(pd,suPiezoA,BLACK,7.5,'series-su-piezoball-a');
series(pd,suPiezoB,RED,7,'series-su-piezoball-b');
vaneSu.forEach((s,i)=>{
  marker(pd,s,vaneDepth[i],23,'#ffff00',4,'vane-test-'+i);
});
</script>
</body>
</html>
